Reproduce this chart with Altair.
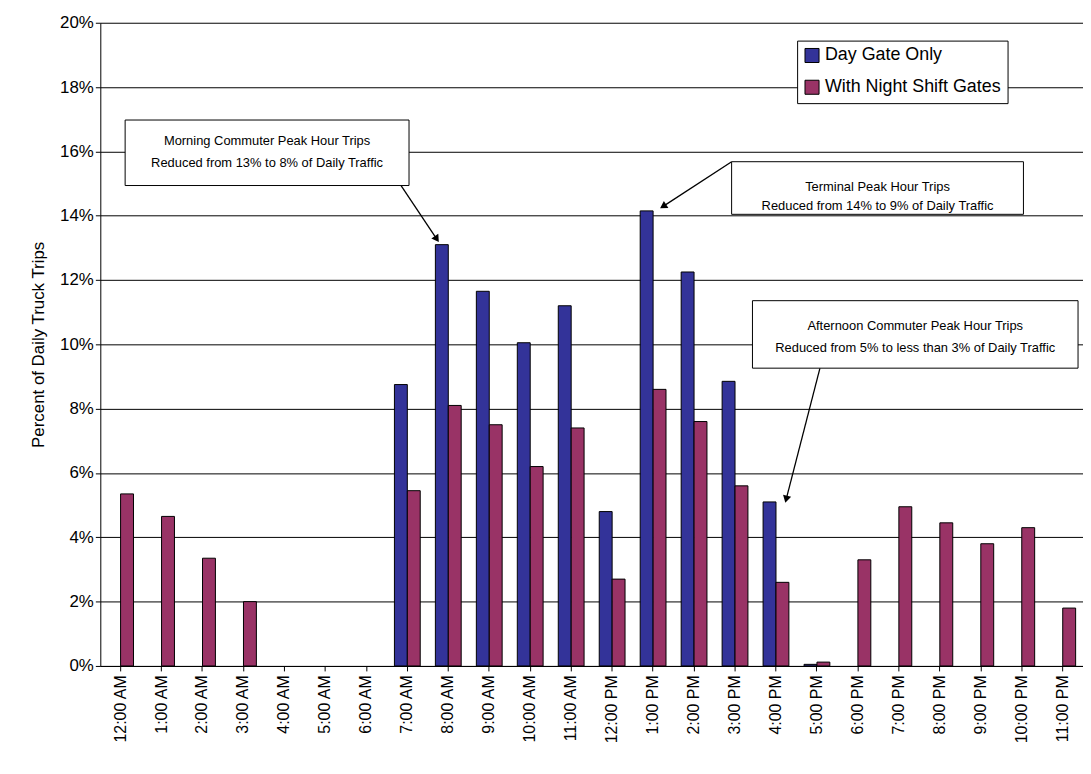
import pandas as pd
import altair as alt

hours = ['12:00 AM', '1:00 AM', '2:00 AM', '3:00 AM', '4:00 AM', '5:00 AM', '6:00 AM',
         '7:00 AM', '8:00 AM', '9:00 AM', '10:00 AM', '11:00 AM', '12:00 PM',
         '1:00 PM', '2:00 PM', '3:00 PM', '4:00 PM', '5:00 PM', '6:00 PM', '7:00 PM',
         '8:00 PM', '9:00 PM', '10:00 PM', '11:00 PM']
day_gate = [0, 0, 0, 0, 0, 0, 0, 8.75, 13.1, 11.65, 10.05, 11.2, 4.8,
            14.15, 12.25, 8.85, 5.1, 0.05, 0, 0, 0, 0, 0, 0]
night_gate = [5.35, 4.65, 3.35, 2.0, 0, 0, 0, 5.45, 8.1, 7.5, 6.2, 7.4, 2.7,
              8.6, 7.6, 5.6, 2.6, 0.12, 3.3, 4.95, 4.45, 3.8, 4.3, 1.8]
series = ['Day Gate Only', 'With Night Shift Gates']
colors = ['#333399', '#993366']

df = pd.concat([
    pd.DataFrame({'hour': hours, 'series': series[0], 'pct': [v / 100 for v in day_gate]}),
    pd.DataFrame({'hour': hours, 'series': series[1], 'pct': [v / 100 for v in night_gate]}),
])

font = 'Liberation Sans'

bars = alt.Chart(df).mark_bar(stroke='black', strokeWidth=1).encode(
    x=alt.X('hour:N', sort=hours, title=None,
            scale=alt.Scale(domain=hours, paddingInner=0.37, paddingOuter=0.18),
            axis=alt.Axis(labelAngle=-90, labelFontSize=16, labelFont=font, labelColor='black',
                          domainColor='black', tickColor='black', labelPadding=4)),
    xOffset=alt.XOffset('series:N', sort=series, scale=alt.Scale(domain=series)),
    y=alt.Y('pct:Q', title='Percent of Daily Truck Trips',
            scale=alt.Scale(domain=[0, 0.2]),
            axis=alt.Axis(format='.0%', values=[i / 50 for i in range(11)], grid=True,
                          gridColor='black', domainColor='black', tickColor='black',
                          labelFontSize=17, labelFont=font, labelColor='black',
                          titleFontSize=17, titleFont=font, titleFontWeight='normal',
                          titleColor='black', titlePadding=12)),
    color=alt.Color('series:N', sort=series, scale=alt.Scale(domain=series, range=colors),
                    legend=alt.Legend(title=None, orient='none', legendX=702, legendY=18,
                                      strokeColor='black', fillColor='white', padding=6,
                                      labelFontSize=18, labelFont=font, labelColor='black',
                                      labelLimit=0, symbolType='square', symbolSize=200,
                                      symbolStrokeColor='black', symbolStrokeWidth=1,
                                      rowPadding=12)),
).transform_filter('datum.pct > 0')

# annotation boxes, pixel positions inside the plot area
boxes = pd.DataFrame({
    'x': [25, 636, 657], 'x2': [311, 930, 985],
    'y': [98, 140, 280], 'y2': [164, 193, 348],
})
texts = pd.DataFrame({
    'x': [168, 168, 783, 783, 821, 821],
    'y': [119, 141, 166, 185, 306, 328],
    'text': ['Morning Commuter Peak Hour Trips', 'Reduced from 13% to 8% of Daily Traffic',
             'Terminal Peak Hour Trips', 'Reduced from 14% to 9% of Daily Traffic',
             'Afternoon Commuter Peak Hour Trips',
             'Reduced from 5% to less than 3% of Daily Traffic'],
})
arrows = pd.DataFrame({
    'x': [303, 636, 725], 'y': [164, 140, 348],
    'x2': [339, 567, 691], 'y2': [218, 185, 480],
    'angle': [146.3, 237.0, 194.4],
})

px = lambda f: alt.X(f, scale=None, axis=None)
py = lambda f: alt.Y(f, scale=None, axis=None)

box_layer = alt.Chart(boxes).mark_rect(fill='white', stroke='black', strokeWidth=1).encode(
    x=px('x:Q'), x2='x2:Q', y=py('y:Q'), y2='y2:Q')
text_layer = alt.Chart(texts).mark_text(font=font, fontSize=13, color='black').encode(
    x=px('x:Q'), y=py('y:Q'), text='text:N')
line_layer = alt.Chart(arrows).mark_rule(color='black', strokeWidth=1.3).encode(
    x=px('x:Q'), x2='x2:Q', y=py('y:Q'), y2='y2:Q')
head_layer = alt.Chart(arrows).mark_point(shape='triangle-up', filled=True, color='black',
                                          size=70, opacity=1).encode(
    x=px('x2:Q'), y=py('y2:Q'), angle=alt.Angle('angle:Q', scale=None))

chart = alt.layer(bars, line_layer, head_layer, box_layer, text_layer).resolve_scale(
    x='independent', y='independent'
).properties(
    width=990, height=648,
    autosize=alt.AutoSizeParams(type='none'),
    padding={'left': 93, 'top': 12, 'right': 0, 'bottom': 106},
).configure_view(stroke=None)

chart.save('out.html', embed_options={'renderer': 'svg', 'actions': False})
